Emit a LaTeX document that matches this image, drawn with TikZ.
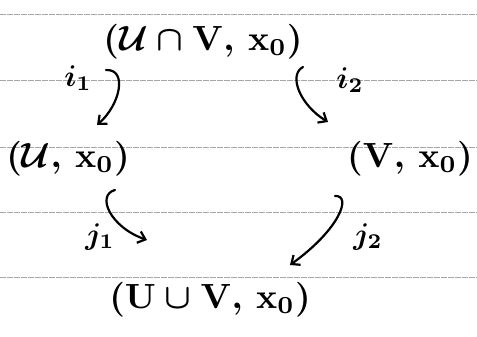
\documentclass[tikz,border=0pt]{standalone}
\usepackage{graphicx}
\usetikzlibrary{arrows.meta}
\newcommand{\objtxt}[1]{\scalebox{3.5}{\boldmath$#1$}}
\newcommand{\lbltxt}[1]{\scalebox{3}{\boldmath$#1$}}
\begin{document}
\begin{tikzpicture}[x=1pt,y=1pt,
  paperline/.style={gray!70,line width=0.6pt,dash pattern=on 6pt off 1pt},
  obj/.style={inner sep=1pt},
  lbl/.style={inner sep=1pt},
  arr/.style={line width=2.2pt,line cap=round,-{Straight Barb[length=7pt,width=12pt,line width=2.2pt]}}]
\useasboundingbox (0,0) rectangle (477,337);
\fill[white] (0,0) rectangle (477,337);
\foreach \yy in {323,257,190,125,60}{\draw[paperline] (0,\yy) -- (477,\yy);}
\node[obj] (top) at (203,295) {\objtxt{(\mathcal{U}\cap \mathrm{V},\,\mathrm{x}_0)}};
\node[obj] (U) at (68,178) {\objtxt{(\mathcal{U},\,\mathrm{x}_0)}};
\node[obj] (V) at (410,178) {\objtxt{(\mathrm{V},\,\mathrm{x}_0)}};
\node[obj] (bot) at (210,37) {\objtxt{(\mathrm{U}\cup \mathrm{V},\,\mathrm{x}_0)}};
\coordinate (i1s) at (106,267);
\coordinate (i2s) at (303,270);
\coordinate (j1s) at (115,147);
\coordinate (j2s) at (335,141);
\draw[arr] (i1s) .. controls (128,268) and (120,232) .. (97,212);
\draw[arr] (i2s) .. controls (288,262) and (300,232) .. (328,215);
\draw[arr] (j1s) .. controls (96,142) and (110,110) .. (147,97);
\draw[arr] (j2s) .. controls (352,142) and (340,108) .. (290,72);
\node[lbl] (li1) at (78,259) {\lbltxt{i_1}};
\node[lbl] (li2) at (350,257) {\lbltxt{i_2}};
\node[lbl] (lj1) at (100,100) {\lbltxt{j_1}};
\node[lbl] (lj2) at (368,100) {\lbltxt{j_2}};
\end{tikzpicture}
\end{document}
